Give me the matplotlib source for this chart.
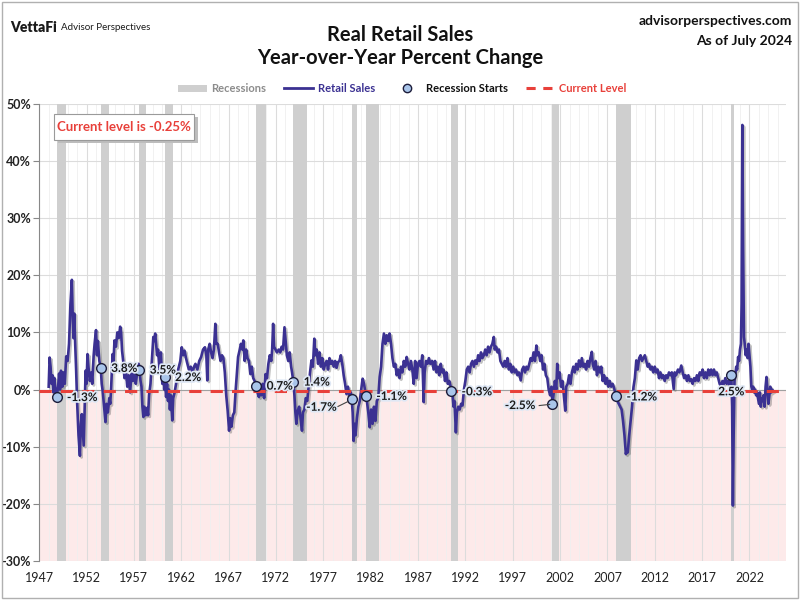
import matplotlib
matplotlib.use("Agg")
import matplotlib.pyplot as plt
import matplotlib.patheffects as pe
from matplotlib.patches import Patch, Rectangle
from matplotlib.lines import Line2D

plt.rcParams['font.family'] = ['Lato', 'DejaVu Sans']

# ---------------- data ----------------
years = [
 1948.0,1948.1,1948.2,1948.3,1948.4,1948.5,1948.6,1948.75,1948.83,1949.0,1949.1,1949.2,1949.3,1949.45,1949.55,1949.7,1949.85,
 1950.0,1950.15,1950.3,1950.45,1950.55,1950.62,1950.7,1950.8,1950.9,1951.0,1951.15,1951.3,1951.4,1951.5,1951.6,1951.7,1951.8,1951.9,
 1952.0,1952.1,1952.2,1952.35,1952.5,1952.6,1952.75,1952.85,1953.0,1953.1,1953.2,1953.35,1953.5,1953.6,1953.7,1953.85,
 1954.0,1954.1,1954.25,1954.4,1954.5,1954.6,1954.75,1954.85,1954.95,1955.1,1955.25,1955.4,1955.55,1955.65,1955.75,1955.9,
 1956.0,1956.15,1956.3,1956.45,1956.6,1956.75,1956.9,1957.05,1957.2,1957.35,1957.5,1957.58,1957.7,1957.8,1957.9,
 1958.0,1958.1,1958.25,1958.4,1958.5,1958.6,1958.75,1958.9,1959.05,1959.15,1959.25,1959.35,1959.45,1959.55,1959.7,1959.85,
 1960.0,1960.1,1960.2,1960.25,1960.4,1960.5,1960.6,1960.7,1960.8,1960.9,1961.05,1961.15,1961.3,1961.45,1961.6,1961.75,1961.9,
 1962.05,1962.2,1962.35,1962.5,1962.65,1962.8,1963.0,1963.2,1963.35,1963.5,1963.7,1963.9,1964.1,1964.3,1964.5,1964.65,1964.75,1964.85,
 1965.0,1965.15,1965.3,1965.45,1965.6,1965.7,1965.85,1966.0,1966.15,1966.3,1966.45,1966.6,1966.75,1966.9,
 1967.05,1967.15,1967.3,1967.45,1967.6,1967.75,1967.85,1968.0,1968.15,1968.3,1968.45,1968.55,1968.7,1968.85,
 1969.0,1969.15,1969.3,1969.45,1969.6,1969.75,1969.92,1970.05,1970.2,1970.3,1970.45,1970.6,1970.75,1970.9,
 1971.05,1971.2,1971.35,1971.5,1971.6,1971.7,1971.8,1971.95,1972.1,1972.3,1972.45,1972.6,1972.75,1972.9,
 1973.0,1973.15,1973.3,1973.45,1973.6,1973.7,1973.83,1973.95,1974.05,1974.15,1974.3,1974.45,1974.6,1974.75,1974.85,
 1975.0,1975.15,1975.3,1975.45,1975.6,1975.75,1975.9,1976.05,1976.15,1976.3,1976.45,1976.6,1976.75,1976.9,
 1977.05,1977.2,1977.35,1977.5,1977.65,1977.8,1977.95,1978.1,1978.25,1978.4,1978.55,1978.7,1978.85,
 1979.0,1979.15,1979.3,1979.45,1979.6,1979.75,1979.9,1980.0,1980.1,1980.2,1980.3,1980.4,1980.55,1980.7,1980.85,
 1981.0,1981.15,1981.3,1981.5,1981.6,1981.75,1981.9,1982.05,1982.2,1982.35,1982.5,1982.65,1982.8,1982.95,
 1983.1,1983.25,1983.4,1983.55,1983.7,1983.85,1984.0,1984.15,1984.3,1984.45,1984.6,1984.75,1984.9,
 1985.05,1985.2,1985.35,1985.5,1985.65,1985.8,1985.95,1986.1,1986.25,1986.4,1986.55,1986.7,1986.85,
 1987.0,1987.15,1987.3,1987.45,1987.6,1987.7,1987.85,1988.0,1988.15,1988.3,1988.5,1988.65,1988.8,1988.95,
 1989.1,1989.25,1989.4,1989.55,1989.7,1989.85,1990.0,1990.15,1990.3,1990.45,1990.55,1990.65,1990.75,1990.85,
 1991.0,1991.1,1991.25,1991.4,1991.55,1991.7,1991.85,1992.0,1992.15,1992.3,1992.45,1992.6,1992.75,1992.9,
 1993.05,1993.2,1993.35,1993.5,1993.65,1993.8,1993.95,1994.1,1994.25,1994.4,1994.55,1994.7,1994.85,
 1995.0,1995.1,1995.25,1995.4,1995.55,1995.7,1995.85,1996.0,1996.15,1996.3,1996.45,1996.6,1996.75,1996.9,
 1997.05,1997.2,1997.35,1997.5,1997.65,1997.85,1998.0,1998.15,1998.3,1998.45,1998.6,1998.75,1998.9,
 1999.05,1999.2,1999.35,1999.5,1999.6,1999.75,1999.9,2000.05,2000.2,2000.35,2000.5,2000.65,2000.8,2000.95,
 2001.1,2001.2,2001.3,2001.45,2001.6,2001.7,2001.8,2001.95,2002.1,2002.25,2002.4,2002.55,2002.65,2002.8,2002.95,
 2003.1,2003.25,2003.4,2003.55,2003.7,2003.85,2004.0,2004.15,2004.3,2004.45,2004.6,2004.75,2004.9,
 2005.05,2005.2,2005.35,2005.45,2005.6,2005.75,2005.9,2006.05,2006.2,2006.35,2006.5,2006.65,2006.8,2006.95,
 2007.1,2007.25,2007.4,2007.55,2007.7,2007.92,2008.05,2008.2,2008.35,2008.5,2008.65,2008.8,2008.95,
 2009.05,2009.15,2009.3,2009.45,2009.6,2009.75,2009.9,2010.05,2010.2,2010.35,2010.5,2010.65,2010.8,2010.95,
 2011.1,2011.25,2011.4,2011.55,2011.7,2011.85,2012.0,2012.15,2012.3,2012.45,2012.6,2012.75,2012.9,
 2013.05,2013.2,2013.35,2013.5,2013.65,2013.8,2014.0,2014.1,2014.25,2014.45,2014.6,2014.8,2014.95,
 2015.1,2015.25,2015.4,2015.55,2015.7,2015.85,2016.0,2016.15,2016.3,2016.45,2016.6,2016.75,2016.9,
 2017.05,2017.2,2017.35,2017.5,2017.65,2017.8,2017.95,2018.1,2018.25,2018.4,2018.55,2018.7,2018.85,
 2019.0,2019.15,2019.3,2019.45,2019.6,2019.75,2019.9,2020.08,2020.17,2020.25,2020.33,2020.42,2020.5,2020.6,2020.7,2020.8,2020.9,
 2021.0,2021.1,2021.17,2021.25,2021.33,2021.42,2021.5,2021.6,2021.7,2021.8,2021.9,
 2022.0,2022.1,2022.2,2022.3,2022.4,2022.5,2022.6,2022.7,2022.8,2022.9,
 2023.0,2023.1,2023.2,2023.3,2023.4,2023.5,2023.6,2023.7,2023.8,2023.9,
 2024.0,2024.1,2024.2,2024.3,2024.4,2024.5,
]
yoy = [
 0.5,5.6,4.0,1.0,2.5,-0.5,2.0,-0.5,-1.3,0.5,2.8,0.0,3.3,0.5,3.0,1.0,5.8,
 5.0,8.0,15.0,19.2,12.0,9.0,13.3,8.0,3.4,-2.0,-8.0,-11.6,-6.0,-4.3,-7.0,-9.8,-3.0,3.3,
 1.0,6.2,4.0,1.5,3.0,1.0,6.0,8.0,10.4,6.0,8.5,5.0,3.8,1.0,-0.2,-3.0,
 -5.7,-2.5,-4.0,-1.5,-2.5,0.5,6.2,5.0,8.6,7.5,10.0,9.0,11.0,10.0,6.8,4.5,
 2.0,3.4,0.5,2.5,-0.5,3.0,1.5,3.4,1.0,3.0,4.5,3.5,1.5,0.5,-3.0,
 -4.8,-3.0,-4.5,-3.2,-4.5,-1.0,1.0,5.0,9.2,8.5,9.8,8.0,6.0,7.0,3.5,6.5,
 1.0,3.5,0.0,2.2,-1.3,1.0,-2.0,0.0,-3.5,-1.0,-5.4,-1.5,-0.5,1.0,3.0,4.0,5.0,
 7.4,6.0,6.8,5.5,4.5,3.5,4.0,3.0,4.0,4.5,3.5,5.0,5.7,7.0,7.4,6.0,1.6,7.0,
 8.0,6.5,5.5,7.0,11.5,8.0,8.0,6.4,5.0,6.0,5.5,3.0,-1.0,-3.7,
 -7.2,-5.0,-6.5,-4.5,-4.0,0.0,2.2,5.7,6.8,8.0,7.0,8.6,5.0,7.0,
 5.5,5.0,2.7,4.0,2.0,1.5,0.7,-0.5,-1.3,0.5,-1.0,1.0,-1.5,2.7,
 2.0,4.5,6.0,5.0,7.0,11.5,7.5,7.0,6.5,7.0,6.5,7.5,7.0,10.9,
 9.0,6.0,5.0,6.5,4.0,3.0,1.4,-1.0,-4.0,-6.0,-3.7,-3.0,-5.0,-7.2,-4.0,
 -3.5,-1.5,-2.0,0.5,3.0,5.1,4.0,8.9,6.0,7.0,4.5,6.5,4.0,5.5,
 3.5,4.5,5.0,3.5,5.5,4.5,5.0,4.0,5.0,3.8,4.8,5.0,6.0,
 4.5,2.5,1.0,-0.8,0.5,-1.0,-0.5,-1.7,-4.0,-9.0,-6.0,-8.0,-5.0,-3.0,-2.0,
 0.0,1.9,1.0,-1.1,-2.0,-4.0,-6.6,-3.5,-6.0,-3.0,-5.5,-2.0,-1.5,2.2,
 4.0,8.0,9.8,8.0,9.5,8.5,9.8,8.0,5.5,4.0,4.5,2.5,3.5,
 2.0,4.0,3.0,5.0,4.0,5.7,4.5,3.5,5.0,3.5,1.0,5.0,2.0,
 4.5,5.0,4.0,6.0,-2.2,3.0,5.0,4.5,5.5,4.5,5.0,3.5,5.0,3.0,
 4.0,2.5,4.5,3.0,3.5,1.5,3.0,1.0,1.5,0.5,-0.3,-1.0,-3.0,-2.0,
 -7.5,-4.0,-3.0,-3.5,-2.5,-2.8,0.0,1.5,3.5,4.0,3.0,4.5,5.0,4.0,
 5.1,4.5,6.0,5.0,6.5,5.5,6.0,7.0,6.0,7.5,6.5,7.5,8.0,
 9.2,7.0,7.5,6.5,7.0,5.0,4.5,4.0,5.0,4.0,5.5,3.5,4.5,3.0,
 4.0,3.0,3.5,2.5,3.0,1.6,3.5,4.0,3.0,4.0,3.5,4.5,5.5,
 5.0,6.5,5.0,7.7,6.0,6.5,5.0,6.0,3.5,4.5,2.5,2.0,0.0,-1.0,
 0.5,-2.5,-1.0,1.5,0.0,4.5,2.0,3.0,0.5,1.5,-1.0,-3.7,0.5,1.0,2.5,
 1.0,3.0,4.0,3.0,4.5,3.5,5.1,4.0,5.5,4.0,4.5,3.5,5.0,
 4.0,5.5,6.6,4.5,3.5,5.0,2.5,4.0,3.0,4.0,1.5,2.5,1.0,2.0,
 0.5,1.5,0.5,1.0,0.3,-1.2,-2.0,-2.5,-3.0,-3.5,-5.5,-8.0,-11.3,
 -10.5,-11.0,-8.0,-5.4,-3.0,0.4,2.0,5.1,3.5,5.5,6.0,5.0,5.5,6.0,
 5.0,4.0,4.5,3.5,4.0,3.0,4.0,3.0,3.5,2.0,3.0,2.0,2.5,
 1.5,2.5,2.0,3.0,2.5,3.0,0.1,3.0,2.5,3.5,3.0,4.2,3.0,
 2.0,2.5,1.5,2.5,1.5,1.8,1.0,2.0,1.5,2.5,1.5,3.0,2.5,
 3.5,2.0,3.0,2.0,3.5,2.5,3.5,2.5,3.5,2.5,3.0,2.0,1.0,
 0.5,1.5,1.0,2.0,1.0,1.5,0.8,2.5,-3.0,-20.3,-8.0,1.5,2.5,4.0,3.5,5.7,5.0,
 7.0,8.0,15.0,46.3,25.0,9.2,8.0,6.0,7.0,5.5,8.0,
 6.0,4.0,0.5,-0.2,0.5,-0.5,0.0,-1.0,-0.5,-1.5,
 -2.5,-0.5,-3.0,-1.5,-2.0,-1.0,-3.0,0.5,2.2,0.0,
 -2.5,-1.0,0.5,-0.5,0.0,-0.25,
]

recession_start = [1948.83, 1953.5, 1957.58, 1960.25, 1969.92, 1973.83, 1980.0, 1981.5, 1990.5, 2001.17, 2007.92, 2020.08]
recession_end   = [1949.83, 1954.42, 1958.33, 1961.17, 1970.92, 1975.25, 1980.58, 1982.92, 1991.25, 2001.92, 2009.5, 2020.33]
start_values    = [-1.3, 3.8, 3.5, 2.2, 0.7, 1.4, -1.7, -1.1, -0.3, -2.5, -1.2, 2.5]
start_labels    = ['-1.3%', '3.8%', '3.5%', '2.2%', '0.7%', '1.4%', '-1.7%', '-1.1%', '-0.3%', '-2.5%', '-1.2%', '2.5%']
current_level = -0.25

x_ticks = list(range(1947, 2023, 5))
y_ticks = list(range(-30, 51, 10))

# ---------------- figure ----------------
fig = plt.figure(figsize=(8, 6), dpi=100)
fig.patch.set_facecolor('white')
ax = fig.add_axes([0.049, 0.065, 0.934, 0.762])

LINE = '#3b3192'
RED = '#e8403a'
GRAYBAR = '#cfcfcf'

ax.set_xlim(1947.05, 2025.9)
ax.set_ylim(-30, 50)

# pink area below zero
ax.axhspan(-30, 0, color='#fdeaea', zorder=0, lw=0)

# gridlines
for yr in range(1947, 2026):
    ax.axvline(yr, color='#efefef', lw=0.6, zorder=0.5)
for yt in y_ticks:
    ax.axhline(yt, color='#dcdcdc', lw=0.8, zorder=0.6)
for xt in x_ticks:
    ax.axvline(xt, color='#dcdcdc', lw=0.8, zorder=0.6)

# recessions
for s, e in zip(recession_start, recession_end):
    ax.axvspan(s, e, color=GRAYBAR, lw=0, zorder=1)

ax.axhline(0, color='#a0a0a0', lw=0.8, zorder=1.5)

# series
ax.plot(years, yoy, color=LINE, lw=1.9, zorder=3, solid_joinstyle='round',
        path_effects=[pe.SimpleLineShadow(offset=(1.2, -1.2), shadow_color='#555555', alpha=0.35), pe.Normal()])

# current level
ax.axhline(current_level, color=RED, lw=2.2, ls=(0, (4, 3)), zorder=4)

# recession start markers
ax.plot(recession_start, start_values, 'o', ms=7, mfc='#a9c5ea', mec='#1c1c3a', mew=1.0, zorder=5, ls='none')

label_style = dict(fontsize=8.5, fontweight='bold', color='#1a1a1a', zorder=6, va='center',
                   path_effects=[pe.withStroke(linewidth=2.5, foreground='#dfe8f5')])
offsets = {
    '-1.7%': (-1.6, -1.4, 'right'),
    '-2.5%': (-1.8, -0.3, 'right'),
    '2.5%':  (0.0, -2.9, 'center'),
}
for xs, v, lab in zip(recession_start, start_values, start_labels):
    if lab in offsets:
        dx, dy, ha = offsets[lab]
    else:
        dx, dy, ha = (1.1, -0.1, 'left')
    ax.text(xs + dx, v + dy, lab, ha=ha, **label_style)
# leader lines
ax.plot([1978.5, 1979.6], [-3.0, -2.1], color='#444444', lw=0.8, zorder=5.5)
ax.plot([1999.8, 2000.9], [-2.8, -2.6], color='#444444', lw=0.8, zorder=5.5)

# axes styling
for sp in ['top', 'right', 'bottom']:
    ax.spines[sp].set_visible(False)
ax.spines['left'].set_color('#888888')
ax.spines['left'].set_linewidth(0.8)
ax.set_yticks(y_ticks)
ax.set_yticklabels([f'{t}%' for t in y_ticks], fontsize=9, fontweight='bold', color='#222222')
ax.set_xticks(x_ticks)
ax.set_xticklabels([str(t) for t in x_ticks], fontsize=9, color='#222222')
ax.tick_params(axis='y', length=4, color='#888888', pad=2)
ax.tick_params(axis='x', length=0, pad=8)

# header texts
fig.text(0.0125, 0.955, 'VettaFi', fontsize=10, fontweight='heavy', color='#1a1a1a', ha='left', va='center')
fig.text(0.076, 0.954, 'Advisor Perspectives', fontsize=7, color='#1a1a1a', ha='left', va='center')
fig.text(0.5, 0.942, 'Real Retail Sales', fontsize=14.5, fontweight='bold', color='#111111', ha='center', va='center')
fig.text(0.5, 0.903, 'Year-over-Year Percent Change', fontsize=14.5, fontweight='bold', color='#111111', ha='center', va='center')
fig.text(0.99, 0.965, 'advisorperspectives.com', fontsize=10, fontweight='bold', color='#111111', ha='right', va='center')
fig.text(0.99, 0.932, 'As of July 2024', fontsize=10, fontweight='bold', color='#111111', ha='right', va='center')

# legend
handles = [
    Patch(facecolor=GRAYBAR, edgecolor='none', label='Recessions'),
    Line2D([], [], color=LINE, lw=2, label='Retail Sales'),
    Line2D([], [], marker='o', ls='none', ms=6, mfc='#a9c5ea', mec='#1c1c3a', label='Recession Starts'),
    Line2D([], [], color=RED, lw=2.2, ls=(0, (3, 2.5)), label='Current Level'),
]
leg = fig.legend(handles=handles, loc='center', bbox_to_anchor=(0.503, 0.852), ncol=4, frameon=False,
                 fontsize=8, handlelength=2.6, columnspacing=1.6, handletextpad=0.4)
for txt, c in zip(leg.get_texts(), ['#8c8c8c', LINE, '#111111', RED]):
    txt.set_color(c)
    txt.set_fontweight('bold')

# current level box
fig.patches.append(Rectangle((0.072, 0.762), 0.175, 0.043, transform=fig.transFigure,
                             facecolor='#bdbdbd', edgecolor='none', zorder=9))
fig.patches.append(Rectangle((0.068, 0.767), 0.175, 0.043, transform=fig.transFigure,
                             facecolor='white', edgecolor='#9a9a9a', lw=0.8, zorder=10))
fig.text(0.1555, 0.7885, 'Current level is -0.25%', fontsize=9.5, fontweight='bold', color=RED,
         ha='center', va='center', zorder=11)

# outer border
fig.patches.append(Rectangle((0.003, 0.004), 0.994, 0.992, transform=fig.transFigure,
                             facecolor='none', edgecolor='#b0b0b0', lw=1.0, zorder=20))

fig.savefig('out.png', dpi=100, facecolor='white')
